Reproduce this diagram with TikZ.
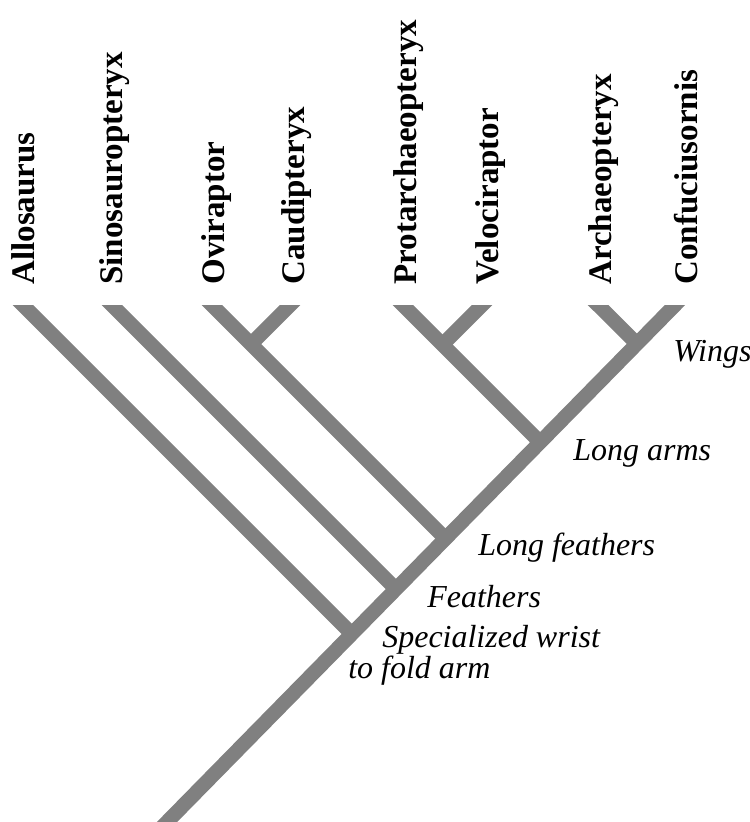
\documentclass[tikz,border=0pt]{standalone}
\usepackage{fontspec}
\setmainfont{Liberation Serif}
\definecolor{branchgray}{gray}{0.5}
\tikzset{branch/.style={branchgray, line width=0.29cm, line cap=butt, shorten >=-8pt}}
\tikzset{taxon/.style={rotate=90, anchor=base west, inner sep=0pt, font=\fontsize{18.8}{20}\selectfont\bfseries}}
\tikzset{trait/.style={anchor=base west, inner sep=0pt, align=left, font=\fontsize{18.2}{17.6}\selectfont\itshape}}

\begin{document}
\begin{tikzpicture}[x=0.02cm, y=-0.02cm]
    \useasboundingbox (0,0) rectangle (750,822);
    % tips
    \coordinate (tAllo) at (23,305);
    \coordinate (tSino) at (112,305);
    \coordinate (tOvi) at (212,305);
    \coordinate (tCaud) at (290,305);
    \coordinate (tProt) at (403,305);
    \coordinate (tVelo) at (482,305);
    \coordinate (tArch) at (598,305);
    \coordinate (tConf) at (675,305);
    % splits
    \coordinate (root) at (167,822);
    \coordinate (jWrist) at (351.9,633.9);
    \coordinate (jFeath) at (396,589);
    \coordinate (jLongF) at (445.5,538.5);
    \coordinate (jArms) at (540.2,442.2);
    \coordinate (jWings) at (636.9,343.8);
    \coordinate (jCaud) at (251,344);
    \coordinate (jVelo) at (442.5,344.5);
    \begin{scope}
        \clip (0,305) rectangle (750,822);
        \draw[branch, shorten <=-8pt] (root) -- (tConf);
        \draw[branch] (jWrist) -- (tAllo);
        \draw[branch] (jFeath) -- (tSino);
        \draw[branch] (jLongF) -- (tOvi);
        \draw[branch] (jCaud) -- (tCaud);
        \draw[branch] (jArms) -- (tProt);
        \draw[branch] (jVelo) -- (tVelo);
        \draw[branch] (jWings) -- (tArch);
    \end{scope}
    % taxa
    \node[taxon] (allosaurus) at (34,285) {Allosaurus};
    \node[taxon] (sinosauropteryx) at (122,285) {Sinosauropteryx};
    \node[taxon] (oviraptor) at (224,285) {Oviraptor};
    \node[taxon] (caudipteryx) at (304,285) {Caudipteryx};
    \node[taxon] (protarchaeopteryx) at (416,285) {Protarchaeopteryx};
    \node[taxon] (velociraptor) at (498,285) {Velociraptor};
    \node[taxon] (archaeopteryx) at (611,285) {Archaeopteryx};
    \node[taxon] (confuciusornis) at (697,285) {Confuciusornis};
    % characters
    \node[trait] (wings) at (673,361) {Wings};
    \node[trait] (longarms) at (573,460) {Long arms};
    \node[trait] (longfeathers) at (478,555) {Long feathers};
    \node[trait] (feathers) at (427,607) {Feathers};
    \node[trait] (wrist) at (348,678) {\hspace*{0.68cm}Specialized wrist\\to fold arm};
\end{tikzpicture}
\end{document}
